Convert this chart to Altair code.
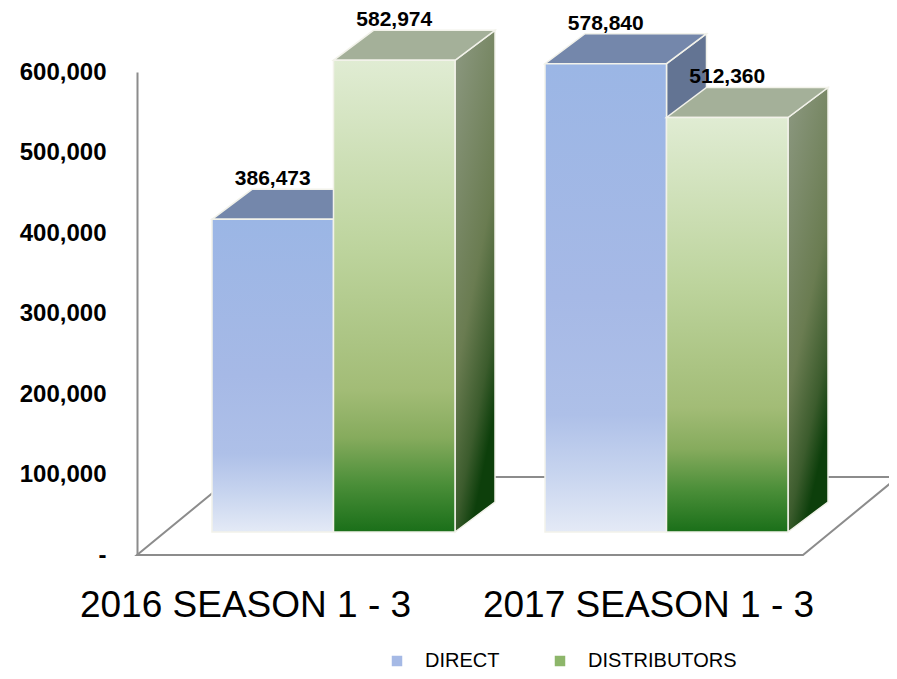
import altair as alt
import pandas as pd

# ---------------- data ----------------
categories = ["2016 SEASON 1 - 3", "2017 SEASON 1 - 3"]
series = ["DIRECT", "DISTRIBUTORS"]
direct_values = [386473, 578840]
distributor_values = [582974, 512360]
y_ticks = [0, 100000, 200000, 300000, 400000, 500000, 600000]

# ---------------- layout / style constants ----------------
PLOT_W, PLOT_H = 752, 483
Y_MAX = 600000
V_PER_PX = Y_MAX / PLOT_H
BAR_PX = 121.5
X_MAX = PLOT_W / BAR_PX          # x unit = one bar width
FIRST = 75 / BAR_PX
STEP = 333 / BAR_PX
DEPTH_X = 40 / BAR_PX
DEPTH_V = 30 * V_PER_PX
BASE = 23 * V_PER_PX
FLOOR_FRONT = 666 / BAR_PX
FLOOR_DX = 95 / BAR_PX
FLOOR_DV = 78 * V_PER_PX
CAT_NUDGE = [-88 / BAR_PX, -18 / BAR_PX]
FONT = "Liberation Sans"

values = {"DIRECT": direct_values, "DISTRIBUTORS": distributor_values}

front_rows, top_rows, side_rows = [], [], []
for gi, cat in enumerate(categories):
    for si, s in enumerate(series):
        v = values[s][gi]
        x0 = FIRST + gi * STEP + si
        x1 = x0 + 1
        top = BASE + v * 1.005
        bid = f"{gi}-{si}"
        front_rows.append(dict(series=s, category=cat, value=v, x0=x0, x1=x1,
                               xc=(x0 + x1) / 2, y0=BASE, y1=top,
                               label=f"{v:,}"))
        for x, lo, hi in [(x0, top, top), (x0 + DEPTH_X, top, top + DEPTH_V),
                          (x1, top, top + DEPTH_V), (x1 + DEPTH_X, top + DEPTH_V, top + DEPTH_V)]:
            top_rows.append(dict(series=s, bar=bid, x=x, lo=lo, hi=hi))
        for x, lo, hi in [(x1, BASE, top), (x1 + DEPTH_X, BASE + DEPTH_V, top + DEPTH_V)]:
            side_rows.append(dict(series=s, bar=bid, x=x, lo=lo, hi=hi))

front_df = pd.DataFrame(front_rows)
top_df = pd.DataFrame(top_rows)
side_df = pd.DataFrame(side_rows)

floor_df = pd.DataFrame({
    "x": [FLOOR_DX, 0, FLOOR_FRONT, FLOOR_FRONT + FLOOR_DX, FLOOR_DX],
    "y": [FLOOR_DV, 0, 0, FLOOR_DV, FLOOR_DV],
    "o": [0, 1, 2, 3, 4],
})

cat_df = pd.DataFrame({
    "category": categories,
    "x": [FIRST + i * STEP + 1 + CAT_NUDGE[i] for i in range(len(categories))],
    "y": [0, 0],
})

xs = alt.Scale(domain=[0, X_MAX], nice=False, zero=False)
ys = alt.Scale(domain=[0, Y_MAX], nice=False, zero=False)
yaxis = alt.Axis(values=y_ticks, title=None, grid=False, ticks=False,
                 labelExpr="datum.value == 0 ? '-\u00a0\u00a0' : format(datum.value, ',')",
                 labelFontSize=24, labelFontWeight="bold", labelFont=FONT,
                 labelColor="#000000", labelPadding=31,
                 domainColor="#8C8C8C", domainWidth=2)


def X(f):
    return alt.X(f, type="quantitative", scale=xs, axis=None)


def Y(f):
    return alt.Y(f, type="quantitative", scale=ys, axis=yaxis)


EDGE = "#F2F2EA"


def grad(stops, x2=0, y2=1):
    return alt.Gradient(gradient="linear",
                        stops=[alt.GradientStop(offset=o, color=c) for o, c in stops],
                        x1=0, y1=0, x2=x2, y2=y2)


blue_front = grad([(0, "#9BB6E5"), (0.5, "#A6B9E6"), (0.75, "#AEC0E8"),
                   (0.88, "#C8D5EF"), (1, "#E4EAF6")])
green_front = grad([(0, "#E0ECD3"), (0.4, "#BDD49D"), (0.7, "#A2BC76"),
                    (0.8, "#86AB5D"), (0.9, "#4A8E38"), (1, "#1A6F19")])
green_side = grad([(0, "#8D9982"), (0.6, "#6A7C51"), (0.85, "#3C5C2D"),
                   (1, "#0D3F0B")], x2=0.4, y2=1)

face_style = {
    "DIRECT": dict(front=blue_front, top="#7487AB", side="#637493"),
    "DISTRIBUTORS": dict(front=green_front, top="#A4B099", side=green_side),
}

floor = alt.Chart(floor_df).mark_line(color="#8C8C8C", strokeWidth=2).encode(
    x=X("x"), y=Y("y"), order="o:Q")

layers = [floor]
for s in series:
    st = face_style[s]
    side = alt.Chart(side_df).transform_filter(alt.datum.series == s).mark_area(
        orient="vertical", color=st["side"], stroke=EDGE, strokeWidth=1.5).encode(
        x=X("x"), y=Y("lo"), y2="hi", detail="bar:N")
    topf = alt.Chart(top_df).transform_filter(alt.datum.series == s).mark_area(
        orient="vertical", color=st["top"], stroke=EDGE, strokeWidth=1.5).encode(
        x=X("x"), y=Y("lo"), y2="hi", detail="bar:N")
    front = alt.Chart(front_df).transform_filter(alt.datum.series == s).mark_rect(
        color=st["front"], stroke=EDGE, strokeWidth=1.5).encode(
        x=X("x0"), x2="x1", y=Y("y0"), y2="y1")
    layers += [side, topf, front]

labels = alt.Chart(front_df).mark_text(
    font=FONT, fontSize=21, fontWeight="bold", color="#000000",
    baseline="middle", align="center", dy=-40).encode(
    x=X("xc"), y=Y("y1"), text="label:N")

cat_labels = alt.Chart(cat_df).mark_text(
    font=FONT, fontSize=37, color="#000000", baseline="middle",
    align="center", dy=51).encode(x=X("x"), y=Y("y"), text="category:N")

legend_layer = alt.Chart(front_df).mark_square(opacity=0).encode(
    x=X("x0"), y=Y("y0"),
    color=alt.Color("series:N",
                    scale=alt.Scale(domain=series, range=["#A5B9E5", "#8DB66A"]),
                    legend=alt.Legend(orient="none", legendX=250, legendY=579,
                                      direction="horizontal", title=None,
                                      labelFontSize=20, labelFont=FONT,
                                      labelColor="#000000", symbolType="square",
                                      symbolSize=110, symbolOpacity=1,
                                      symbolStrokeWidth=0, labelOffset=18,
                                      columnPadding=50, padding=0)))

layers += [labels, cat_labels, legend_layer]

chart = alt.layer(*layers).properties(
    width=PLOT_W, height=PLOT_H,
    autosize=alt.AutoSizeParams(type="none"),
    padding={"left": 129, "top": 64, "right": 0, "bottom": 116},
).configure(font=FONT, background="#FFFFFF").configure_view(strokeWidth=0, stroke="transparent")

chart.save("out.html", embed_options={"renderer": "svg", "actions": False})
